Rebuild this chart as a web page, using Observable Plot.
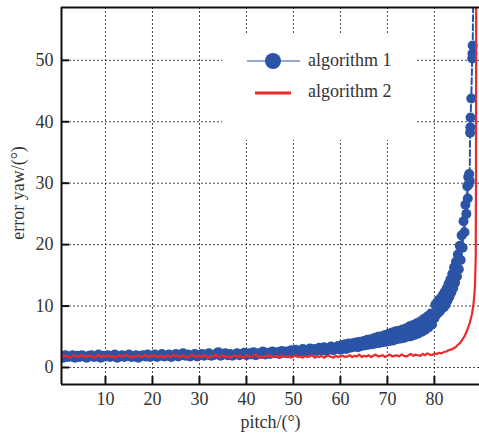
<!DOCTYPE html>
<html><head><meta charset="utf-8">
<script src="https://cdn.jsdelivr.net/npm/d3@7"></script>
<script src="https://cdn.jsdelivr.net/npm/@observablehq/plot@0.6"></script>
<style>
body{margin:0;background:#fff;}
#wrap{position:relative;width:479px;height:436px;font-family:"Liberation Serif","Times New Roman",serif;}
#legend{position:absolute;left:222px;top:33px;width:193px;height:107px;background:#fff;}
</style></head><body><div id="wrap"></div>
<script>
const seriesNames = ["algorithm 1", "algorithm 2"];
const xTicks = [10, 20, 30, 40, 50, 60, 70, 80];
const yTicks = [0, 10, 20, 30, 40, 50];
const xDomain = [0.64, 89.6];
const yDomain = [-2.77, 58.6];
const xLabel = "pitch/(°)";
const yLabel = "error yaw/(°)";

const alg1Pitch = [
0.8,1,1.5,2,2.5,3,3.5,4,4.5,5,5.5,6,6.5,7,7.5,8,8.5,9,9.5,10,
10.5,11,11.5,12,12.5,13,13.5,14,14.5,15,15.5,16,16.5,17,17.5,18,18.5,19,19.5,20,
20.5,21,21.5,22,22.5,23,23.5,24,24.5,25,25.5,26,26.5,27,27.5,28,28.5,29,29.5,30,
30.5,31,31.5,32,32.5,33,33.5,34,34.5,35,35.5,36,36.5,37,37.5,38,38.5,39,39.5,40,
40.5,41,41.5,42,42.5,43,43.5,44,44.5,45,45.5,46,46.5,47,47.5,48,48.5,49,49.5,50,
50.5,51,51.5,52,52.5,53,53.5,54,54.5,55,55.5,56,56.5,57,57.5,58,58.5,59,59.5,60,
60.25,60.5,60.75,61,61.25,61.5,61.75,62,62.25,62.5,62.75,63,63.25,63.5,63.75,64,64.25,64.5,64.75,65,
65.25,65.5,65.75,66,66.25,66.5,66.75,67,67.25,67.5,67.75,68,68.25,68.5,68.75,69,69.25,69.5,69.75,70,
70.25,70.5,70.75,71,71.25,71.5,71.75,72,72.25,72.5,72.75,73,73.25,73.5,73.75,74,74.25,74.5,74.75,75,
75.25,75.5,75.75,76,76.25,76.5,76.75,77,77.25,77.5,77.75,78,78.25,78.5,78.75,79,79.25,79.5,79.75,
80,80.2,80.4,80.6,80.8,81,81.2,81.4,81.6,81.8,82,82.2,82.4,82.6,82.8,83,83.2,83.4,83.6,83.8,
84,84.2,84.4,84.6,84.8,85,85.2,85.4,85.6,85.8,86,86.2,86.4,86.6,86.8,87,87.1,87.2,87.3,87.4,87.5,
87.6,87.65,87.7,87.85,88.05,88.1,88.15,88.3
];
const alg1Error = [
1.9,1.6,2.0,1.7,1.8,2.0,1.6,1.9,1.7,2.0,1.8,1.6,1.9,2.0,1.7,1.8,2.1,1.6,1.9,1.8,
2.0,1.7,1.9,2.1,1.6,1.8,2.0,1.7,1.9,2.1,1.7,1.8,2.0,1.6,1.9,2.0,1.8,2.1,1.7,1.9,
2.1,1.7,1.9,2.2,1.8,1.9,2.1,1.7,2.0,2.2,1.8,2.0,2.3,1.9,2.1,1.8,2.0,2.2,1.8,2.0,
2.2,1.9,2.1,2.3,1.9,2.0,2.2,2.5,1.9,2.1,2.3,2.0,2.2,1.9,2.1,2.3,2.0,2.2,2.4,2.0,
2.3,2.1,2.5,2.0,2.3,2.2,2.6,2.1,2.4,2.2,2.6,2.3,2.5,2.2,2.7,2.4,2.6,2.3,2.8,2.5,
2.9,2.4,2.7,3.0,2.5,2.8,3.1,2.6,3.0,2.7,3.2,2.8,3.3,2.7,3.1,3.4,2.8,3.2,3.5,2.9,
3.6,3.1,3.4,3.8,3.0,3.5,3.9,3.2,3.6,3.3,4.0,3.4,3.7,4.1,3.3,3.8,4.2,3.5,3.9,4.3,
3.6,4.0,4.5,3.7,4.2,4.6,3.8,4.3,4.8,3.9,4.4,5.0,4.0,4.6,5.1,4.1,4.7,5.3,4.2,4.9,
5.5,4.3,5.0,5.7,4.4,5.2,5.9,4.6,5.4,6.0,4.7,5.5,6.2,4.8,5.7,6.4,5.0,5.9,6.7,5.1,
6.1,6.9,5.3,6.3,7.2,5.5,6.6,7.5,5.8,6.9,7.9,6.1,7.3,8.3,6.5,7.7,8.8,7.0,8.4,
8.0,10.2,8.6,10.6,8.9,11.0,9.2,11.3,9.6,11.8,9.8,12.3,10.2,12.8,10.9,13.6,11.5,14.3,12.2,15.2,
12.9,16.3,13.8,17.2,14.8,18.4,16.0,19.8,17.5,21.5,19.5,23.8,22.0,26.5,25.0,29.5,27.5,31.0,29.8,31.5,30.4,
38.2,39.1,40.7,43.8,50.3,51.1,52.4,62
];

const alg2Pitch = [
0.8,1,1.5,2,2.5,3,3.5,4,4.5,5,5.5,6,6.5,7,7.5,8,8.5,9,9.5,10,
10.5,11,11.5,12,12.5,13,13.5,14,14.5,15,15.5,16,16.5,17,17.5,18,18.5,19,19.5,20,
20.5,21,21.5,22,22.5,23,23.5,24,24.5,25,25.5,26,26.5,27,27.5,28,28.5,29,29.5,30,
30.5,31,31.5,32,32.5,33,33.5,34,34.5,35,35.5,36,36.5,37,37.5,38,38.5,39,39.5,40,
40.5,41,41.5,42,42.5,43,43.5,44,44.5,45,45.5,46,46.5,47,47.5,48,48.5,49,49.5,50,
50.5,51,51.5,52,52.5,53,53.5,54,54.5,55,55.5,56,56.5,57,57.5,58,58.5,59,59.5,60,
60.5,61,61.5,62,62.5,63,63.5,64,64.5,65,65.5,66,66.5,67,67.5,68,68.5,69,69.5,70,
70.5,71,71.5,72,72.5,73,73.5,74,74.5,75,75.5,76,76.5,77,77.5,78,78.5,79,79.5,80,
80.5,81,81.5,82,82.5,83,83.5,84,84.5,85,85.5,86,86.5,87,87.5,88,
88.3,88.5,88.65,88.8,88.85,88.9
];
const alg2Error = [
1.9,1.7,2.0,1.8,1.6,1.9,2.0,1.7,1.8,2.1,1.7,1.9,1.8,2.0,1.6,1.8,2.1,1.7,1.9,1.8,
2.0,1.7,1.9,1.6,1.8,2.0,1.7,1.9,2.1,1.8,1.6,1.9,1.8,2.0,1.7,1.8,2.1,1.7,1.9,1.8,
2.0,1.7,1.8,1.9,1.6,2.0,1.8,1.7,2.1,1.8,1.9,1.7,2.0,1.8,1.6,1.9,2.1,1.7,1.8,1.9,
1.7,2.0,1.8,1.6,1.9,1.8,2.1,1.7,1.8,2.0,1.7,1.9,1.6,1.8,2.0,1.7,1.9,1.8,1.6,2.0,
1.8,1.7,1.9,2.1,1.7,1.8,1.6,1.9,1.8,2.0,1.7,1.8,1.9,1.6,2.0,1.8,1.7,1.9,1.6,1.8,
2.0,1.7,1.8,1.6,1.9,1.7,1.8,2.0,1.6,1.8,1.7,1.9,1.6,1.8,2.0,1.7,1.6,1.9,1.7,1.8,
1.9,1.7,1.8,2.0,1.7,1.9,1.8,2.1,1.7,1.9,1.8,2.0,1.7,1.9,2.1,1.8,1.9,2.0,1.7,1.9,
2.1,1.8,1.9,2.0,1.8,2.1,1.9,1.8,2.0,2.2,1.9,2.1,2.0,1.9,2.2,2.0,2.3,2.1,2.0,2.3,
2.2,2.4,2.3,2.5,2.6,2.8,2.9,3.1,3.3,3.7,4.0,4.6,5.2,6.1,7.2,8.7,
10.2,11.8,13.5,18,30,62
];

const blue = "#2b54a6";
const red = "#ec2a2b";
const ink = "#333";

if (alg1Pitch.length !== alg1Error.length || alg2Pitch.length !== alg2Error.length) {
  throw new Error("length mismatch " + alg1Pitch.length + "/" + alg1Error.length + " " + alg2Pitch.length + "/" + alg2Error.length);
}
const alg1 = alg1Pitch.map((p, i) => ({pitch: p, error: alg1Error[i]}));
const alg2 = alg2Pitch.map((p, i) => ({pitch: p, error: alg2Error[i]}));

const chart = Plot.plot({
  width: 479, height: 436,
  marginLeft: 61, marginRight: 0, marginTop: 7, marginBottom: 52,
  x: {domain: xDomain},
  y: {domain: yDomain},
  style: {fontFamily: "'Liberation Serif','Times New Roman',serif", fontSize: "18px", color: ink, background: "#fff", overflow: "visible"},
  marks: [
    Plot.gridX(xTicks, {stroke: "#333", strokeOpacity: 0.9, strokeDasharray: "2,2", strokeWidth: 1}),
    Plot.gridY(yTicks, {stroke: "#333", strokeOpacity: 0.9, strokeDasharray: "2,2", strokeWidth: 1}),
    Plot.line(alg1, {x: "pitch", y: "error", stroke: blue, strokeWidth: 2, strokeDasharray: "6,3", clip: true}),
    Plot.dot(alg1, {x: "pitch", y: "error", r: 5, fill: blue, stroke: "none", clip: true}),
    Plot.line(alg2, {x: "pitch", y: "error", stroke: red, strokeWidth: 2.2, clip: true}),
    Plot.ruleX([xDomain[0]], {stroke: "#111", strokeWidth: 2}),
    Plot.ruleY(yDomain, {stroke: "#111", strokeWidth: 2}),
    Plot.axisX(xTicks, {tickSize: 8, dy: -8, tickPadding: 8, strokeWidth: 2, stroke: "#111", fill: ink, fontSize: 18, label: null}),
    Plot.axisY(yTicks, {tickSize: 8, dx: 8, tickPadding: 8, strokeWidth: 2, stroke: "#111", fill: ink, fontSize: 18, label: null}),
    Plot.text([xLabel], {frameAnchor: "bottom", dy: 38, lineAnchor: "middle", textAnchor: "middle", fontSize: 18, fill: ink}),
    Plot.text([yLabel], {frameAnchor: "left", dx: -43, dy: -3, rotate: -90, textAnchor: "middle", lineAnchor: "middle", fontSize: 18, fill: ink})
  ]
});

const wrap = document.getElementById("wrap");
wrap.appendChild(chart);

const legend = document.createElement("div");
legend.id = "legend";
legend.innerHTML = `<svg width="193" height="107" style="font-family:'Liberation Serif','Times New Roman',serif">
  <line x1="25" x2="78" y1="28" y2="28" stroke="${blue}" stroke-width="1"/>
  <circle cx="51" cy="28" r="8" fill="${blue}"/>
  <text x="86" y="33" font-size="18" fill="${ink}">${seriesNames[0]}</text>
  <line x1="33" x2="69" y1="60" y2="60" stroke="${red}" stroke-width="3"/>
  <text x="86" y="64" font-size="18" fill="${ink}">${seriesNames[1]}</text>
</svg>`;
wrap.appendChild(legend);
</script>
</body></html>
